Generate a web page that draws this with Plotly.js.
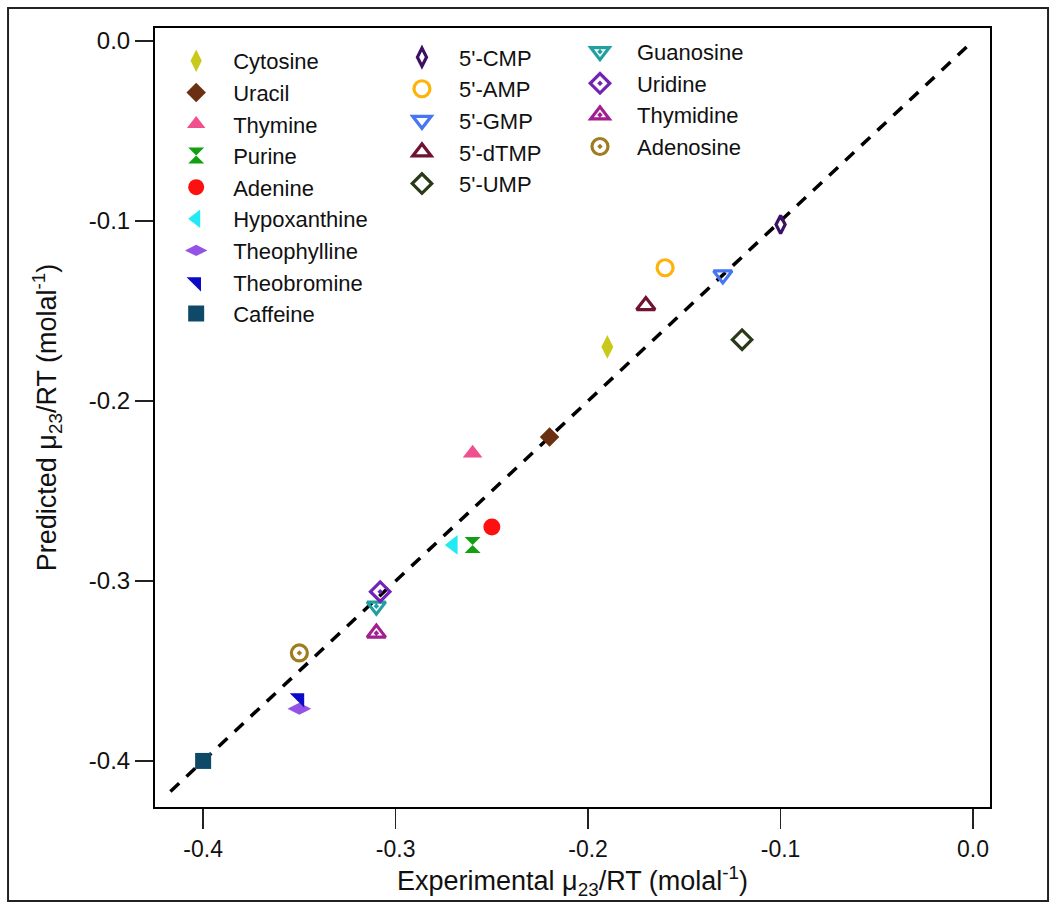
<!DOCTYPE html>
<html>
<head>
<meta charset="utf-8">
<script src="https://cdn.plot.ly/plotly-3.0.1.min.js"></script>
<style>html,body{margin:0;padding:0;background:#fff;}</style>
</head>
<body>
<div id="chart" style="width:1050px;height:909px;"></div>
<script>
// ---- data ----
const compounds = ["Cytosine","Uracil","Thymine","Purine","Adenine","Hypoxanthine","Theophylline","Theobromine","Caffeine",
  "5'-CMP","5'-AMP","5'-GMP","5'-dTMP","5'-UMP",
  "Guanosine","Uridine","Thymidine","Adenosine"];
const experimental = [-0.19,-0.22,-0.26,-0.26,-0.25,-0.27,-0.35,-0.35,-0.40,
  -0.10,-0.16,-0.13,-0.17,-0.12,
  -0.31,-0.308,-0.31,-0.35];
const predicted = [-0.17,-0.22,-0.229,-0.28,-0.27,-0.28,-0.371,-0.365,-0.40,
  -0.102,-0.126,-0.130,-0.147,-0.166,
  -0.314,-0.306,-0.329,-0.340];
const parityX = [-0.417, 0.0];
const parityY = [-0.417, 0.0];
const tickVals = [-0.4,-0.3,-0.2,-0.1,0.0];
const tickText = ["-0.4","-0.3","-0.2","-0.1","0.0"];

// ---- styles ----
const symbols = ["diamond-tall","diamond","triangle-up","hourglass","circle","triangle-left","diamond-wide","triangle-ne","square",
  "diamond-tall-open","circle-open","triangle-down-open","triangle-up-open","diamond-open",
  "triangle-down-open-dot","diamond-open-dot","triangle-up-open-dot","circle-open-dot"];
const colors = ["#c9c91c","#6b2f12","#f0508e","#12a012","#ff1010","#22eaf2","#9552e6","#0a0ac8","#0e4a68",
  "#3c1062","#ffb30a","#4676f2","#701232","#2a3a18",
  "#20a0a0","#7222b4","#a0208e","#a07c20"];
const sizes = [17,15,17,16,17,17,17,16,16,
  13,16,16,16,15,
  16,15,16,16];
const legendOf = i => i < 9 ? "legend" : (i < 14 ? "legend2" : "legend3");

const traces = compounds.map((name, i) => ({
  type: "scatter", mode: "markers", name: name,
  x: [experimental[i]], y: [predicted[i]],
  legend: legendOf(i),
  marker: {symbol: symbols[i], color: colors[i], size: sizes[i],
           line: {color: colors[i], width: symbols[i].indexOf("open") >= 0 ? 3.2 : 0}},
  hoverinfo: "name+x+y"
}));
traces.unshift({
  type: "scatter", mode: "lines", x: parityX, y: parityY, showlegend: false,
  line: {color: "#000", width: 3.5, dash: "12px,10px"}, hoverinfo: "skip"
});

const font = "Liberation Sans, Arial, sans-serif";
const legendBase = {bgcolor: "rgba(0,0,0,0)", borderwidth: 0, font: {family: font, size: 22, color: "#111"},
  itemwidth: 64, tracegroupgap: 0, xanchor: "left", yanchor: "top", traceorder: "normal"};

const layout = {
  width: 1050, height: 909,
  margin: {l: 155, r: 60, t: 28, b: 102},
  paper_bgcolor: "#fff", plot_bgcolor: "#fff",
  font: {family: font, color: "#111"},
  showlegend: true,
  xaxis: {
    range: [-0.425, 0.0088], tickvals: tickVals, ticktext: tickText,
    showgrid: false, zeroline: false, showline: true, mirror: true, linecolor: "#000", linewidth: 2,
    ticks: "outside", ticklen: 20, tickwidth: 1.5, tickcolor: "#222",
    tickfont: {family: font, size: 23},
    title: {text: "Experimental μ<sub>23</sub>/RT (molal<sup>-1</sup>)", font: {family: font, size: 27}, standoff: 4}
  },
  yaxis: {
    range: [-0.4256, 0.0072], tickvals: tickVals, ticktext: tickText,
    showgrid: false, zeroline: false, showline: true, mirror: true, linecolor: "#000", linewidth: 2,
    ticks: "outside", ticklen: 18, tickwidth: 1.5, tickcolor: "#222",
    tickfont: {family: font, size: 24},
    title: {text: "Predicted μ<sub>23</sub>/RT (molal<sup>-1</sup>)", font: {family: font, size: 27}, standoff: 24}
  },
  legend: Object.assign({}, legendBase, {x: 0.005, y: 0.9846}),
  legend2: Object.assign({}, legendBase, {x: 0.2754, y: 0.9893}),
  legend3: Object.assign({}, legendBase, {x: 0.4886, y: 0.9963}),
  shapes: [{type: "rect", xref: "paper", yref: "paper", x0: -0.176, x1: 1.0695, y0: -0.1207, y1: 1.0257,
            line: {color: "#222", width: 2}, fillcolor: "rgba(0,0,0,0)", layer: "below"}]
};

Plotly.newPlot("chart", traces, layout, {displayModeBar: false, staticPlot: true});
</script>
</body>
</html>
